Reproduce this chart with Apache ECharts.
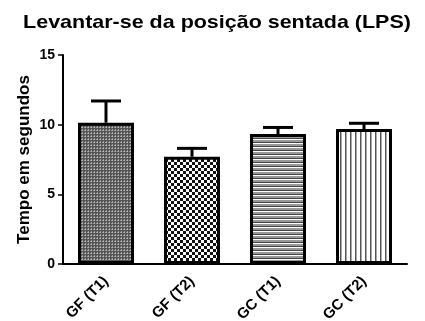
<!DOCTYPE html>
<html>
<head>
<meta charset="utf-8">
<script src="https://cdn.jsdelivr.net/npm/echarts@6/dist/echarts.min.js"></script>
<style>
  html, body { margin: 0; padding: 0; background: #fff; }
  #chart { width: 425px; height: 321px; }
</style>
</head>
<body>
<div id="chart"></div>
<script>
// Groups and measurements (mean time and standard error, seconds)
const categories = ['GF (T1)', 'GF (T2)', 'GC (T1)', 'GC (T2)'];
const means = [10.14, 7.70, 9.33, 9.69];
const errors = [1.56, 0.60, 0.47, 0.41];
const yTicks = [0, 5, 10, 15];
const titleText = 'Levantar-se da posição sentada (LPS)';

// Fill textures for each bar
function makeTile(w, h, draw) {
  const c = document.createElement('canvas');
  c.width = w; c.height = h;
  const ctx = c.getContext('2d');
  ctx.fillStyle = '#fff';
  ctx.fillRect(0, 0, w, h);
  draw(ctx);
  return c;
}
const fineCheck = makeTile(3, 3, ctx => {
  ctx.fillStyle = '#555';
  ctx.fillRect(0, 0, 3, 3);
  ctx.fillStyle = '#bbb';
  ctx.fillRect(1, 1, 1, 1);
  ctx.fillStyle = '#999';
  ctx.fillRect(0, 1, 1, 1);
  ctx.fillRect(1, 0, 1, 1);
});
const coarseCheck = makeTile(6, 6, ctx => {
  ctx.fillStyle = '#111';
  ctx.fillRect(0, 0, 3, 3);
  ctx.fillRect(3, 3, 3, 3);
});
const hLines = makeTile(4, 4, ctx => {
  ctx.fillStyle = '#999';
  ctx.fillRect(0, 0, 4, 2);
  ctx.fillStyle = '#444';
  ctx.fillRect(0, 2, 4, 1);
});
const vLines = makeTile(5, 5, ctx => {
  ctx.fillStyle = '#555';
  ctx.fillRect(0, 0, 1.5, 5);
});
const patterns = [fineCheck, coarseCheck, hLines, vLines];

const chart = echarts.init(document.getElementById('chart'), null, { renderer: 'canvas' });

const font = '"Liberation Sans", Arial, sans-serif';

chart.setOption({
  animation: false,
  backgroundColor: '#fff',
  graphic: [
    {
      type: 'text',
      x: 217,
      y: 23,
      scaleX: 1.13,
      style: {
        text: titleText,
        textAlign: 'center',
        textVerticalAlign: 'middle',
        fontFamily: font,
        fontWeight: 'bold',
        fontSize: 19,
        fill: '#000'
      }
    }
  ],
  grid: { left: 63, right: 18, top: 55, bottom: 57, containLabel: false, outerBoundsMode: 'none' },
  xAxis: {
    type: 'category',
    data: categories,
    axisLine: { lineStyle: { color: '#000', width: 2 } },
    axisTick: { alignWithLabel: true, length: 5, lineStyle: { color: '#000', width: 1.5 } },
    axisLabel: {
      rotate: 45,
      margin: 15,
      fontFamily: font,
      fontWeight: 'bold',
      fontSize: 15,
      color: '#000'
    }
  },
  yAxis: {
    type: 'value',
    min: yTicks[0],
    max: yTicks[yTicks.length - 1],
    interval: 5,
    name: 'Tempo em segundos',
    nameLocation: 'middle',
    nameGap: 30,
    nameMoveOverlap: false,
    nameTextStyle: { fontFamily: font, fontWeight: 'bold', fontSize: 17, color: '#000' },
    splitLine: { show: false },
    axisLine: { show: true, lineStyle: { color: '#000', width: 2 } },
    axisTick: { show: true, length: 5, lineStyle: { color: '#000', width: 1.5 } },
    axisLabel: {
      margin: 8,
      fontFamily: font,
      fontWeight: 'bold',
      fontSize: 14,
      color: '#000'
    }
  },
  series: [
    {
      type: 'bar',
      barWidth: 56,
      data: means.map((v, i) => ({
        value: v,
        itemStyle: {
          color: { image: patterns[i], repeat: 'repeat' },
          borderColor: '#000',
          borderWidth: 3
        }
      })),
      z: 2
    },
    {
      type: 'custom',
      data: means.map((v, i) => [i, v, v + errors[i]]),
      encode: { x: 0, y: [1, 2] },
      z: 3,
      renderItem: function (params, api) {
        const base = api.coord([api.value(0), api.value(1)]);
        const top = api.coord([api.value(0), api.value(2)]);
        const half = 15;
        const style = { stroke: '#000', lineWidth: 3, fill: null };
        return {
          type: 'group',
          children: [
            { type: 'line', shape: { x1: base[0], y1: base[1], x2: top[0], y2: top[1] }, style: style },
            { type: 'line', shape: { x1: top[0] - half, y1: top[1], x2: top[0] + half, y2: top[1] }, style: style }
          ]
        };
      }
    }
  ]
});
</script>
</body>
</html>
